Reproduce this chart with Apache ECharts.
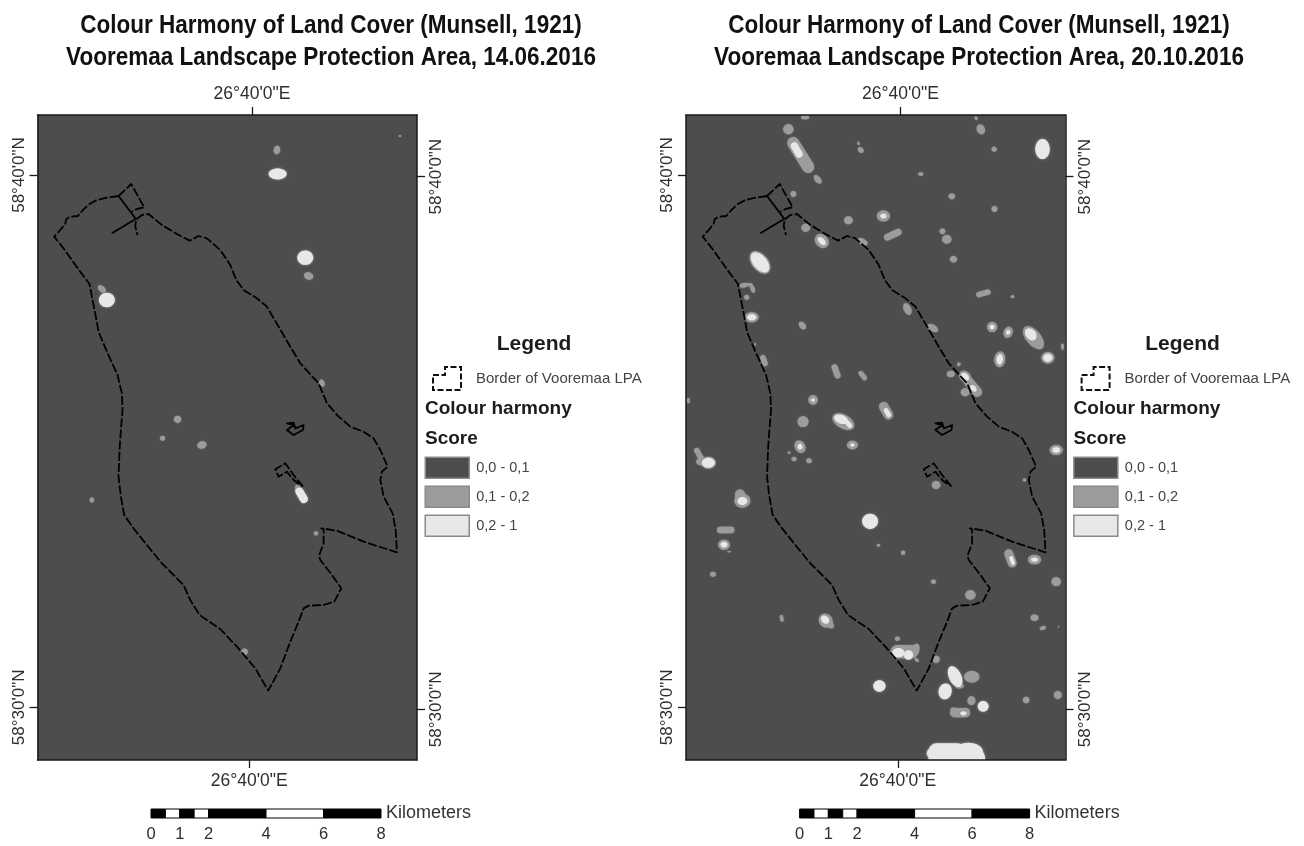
<!DOCTYPE html>
<html>
<head>
<meta charset="utf-8">
<style>html,body{margin:0;padding:0;background:#fff}#c{width:1304px;height:846px;filter:blur(0.7px)}</style>
<script src="https://cdn.jsdelivr.net/npm/echarts@6/dist/echarts.min.js"></script>
</head>
<body>
<div id="c"></div>
<script>
// ---- text ----
const titleLine1 = 'Colour Harmony of Land Cover (Munsell, 1921)';
const titleLine2 = 'Vooremaa Landscape Protection Area, ';
const dates = ['14.06.2016', '20.10.2016'];
const classes = ['0,0 - 0,1', '0,1 - 0,2', '0,2 - 1'];
const classColors = ['#4d4d4d', '#9c9c9c', '#e8e8e8'];
const lonLabel = '26°40\'0"E';
const latLabels = ['58°40\'0"N', '58°30\'0"N'];
const kmTicks = [0, 1, 2, 4, 6, 8];
const kmSegments = [[0, 0.5], [0.5, 1], [1, 1.5], [1.5, 2], [2, 4], [4, 6], [6, 8]];

// ---- map extent and graticule, in map units ----
const mapX = [22, 1160];
const mapY = [45, 1980];
const lonTop = [665], lonBottom = [657];
const latLeft = [225, 1822], latRight = [230, 1828];

// ---- boundary lines, [x, y] in map units ----
const border = [[265,288],[230,293],[200,300],[178,312],[160,328],[143,348],[120,350],[108,358],[105,372],[90,390],[72,410],
[100,445],[125,480],[150,515],[178,552],[185,590],[195,640],[205,695],[230,755],[262,825],[275,880],[277,930],[272,990],
[268,1050],[265,1130],[272,1190],[282,1245],[310,1285],[350,1335],[395,1390],[460,1455],[480,1500],[508,1545],[570,1587],[620,1640],[675,1705],[714,1772],
[750,1705],[780,1625],[805,1565],[820,1525],[835,1517],[880,1515],[912,1505],[933,1465],[905,1425],[870,1380],[866,1368],[880,1330],[880,1288],[873,1285],
[920,1292],[1000,1325],[1100,1357],[1096,1290],[1087,1240],[1060,1190],[1050,1140],[1055,1115],[1072,1100],[1050,1050],[1030,1015],
[1000,995],[960,980],[925,950],[890,910],[865,850],[810,790],[780,740],[745,680],[710,620],[680,595],[640,570],[618,540],[600,495],[570,450],[530,415],[505,408],[478,422],[440,402],[395,375],[355,342],[335,345],[318,358],[315,378],[322,405]];
const squareDashed = [[265,288],[303,252],[342,322],[320,327],[305,335]];
const squareSolid = [[265,288],[318,358]];
const spurSolid = [[245,400],[315,358]];
const enclaveA = [[790,975],[770,970],[790,968],[795,985],[820,975],[818,990],[790,1005],[770,990],[790,975]];
const enclaveB = [[818,1160],[790,1125],[765,1090],[735,1108],[745,1130],[770,1115],[790,1140],[810,1155]];

// ---- patches, [x, y, long axis, short axis, angle] in map units ----
const leftMid = [[740,150,24,18,80],[215,567,26,16,-40],[835,528,26,20,-20],[875,849,20,14,-65],[442,958,20,20,0],[397,1015,14,14,0],[515,1035,26,20,15],[185,1200,14,12,90],[857,1300,12,12,0],[643,1655,18,18,0],[1109,108,6,6,0],[803,1165,20,14,-60]];
const leftLight = [[742,222,50,30,0],[825,473,44,40,0],[230,600,44,40,0],[814,1186,50,24,-60]];
const rightMid = [[379,52,24,12,0],[329,88,28,28,0],[366,165,120,36,-58],[417,238,28,16,-50],[344,282,16,16,0],[539,130,10,6,-70],[546,150,18,14,-45],[892,55,10,8,-60],[906,88,28,22,-65],[946,148,14,14,0],[726,222,14,10,0],[819,289,18,16,0],[947,327,16,16,0],[509,361,24,22,0],[614,348,36,30,0],[642,404,56,20,25],[791,394,16,16,0],[804,418,26,24,0],[824,478,20,18,0],[381,383,24,22,0],[429,423,42,34,-45],[552,425,30,16,-30],[244,487,72,44,-50],[194,556,22,12,10],[210,554,24,9,0],[222,567,22,12,-70],[204,592,14,14,0],[219,652,38,28,0],[371,677,24,16,-50],[686,627,34,20,-65],[762,684,32,18,-30],[914,580,44,16,15],[1001,590,10,8,0],[940,681,28,28,0],[988,697,32,24,70],[1064,713,76,40,-50],[1107,773,36,32,0],[1151,740,18,8,90],[963,778,44,30,85],[256,782,34,16,-70],[229,733,6,6,0],[840,793,10,10,0],[816,822,22,18,0],[859,830,36,28,-45],[882,860,70,28,-50],[859,877,24,22,0],[472,814,44,18,-70],[552,827,32,14,-50],[403,900,26,26,0],[29,902,16,8,90],[622,932,56,28,-60],[373,965,30,30,0],[494,965,66,38,-30],
[364,1040,36,28,-60],[521,1035,30,24,0],[331,1058,8,6,0],[346,1077,14,12,0],[391,1082,16,14,0],[1132,1050,36,28,0],[62,1065,46,16,-60],[89,1088,40,32,0],[69,1085,30,20,0],[184,1185,28,30,0],[191,1202,44,38,0],[141,1290,52,20,0],[136,1334,32,28,0],[151,1355,10,4,0],[103,1423,16,14,0],[772,1155,24,22,0],[1037,1140,10,8,0],[599,1336,10,8,0],[673,1358,12,12,0],[764,1445,14,12,0],[995,1375,56,26,-70],[1067,1379,36,26,0],[1132,1445,26,24,0],[875,1485,28,26,0],[1067,1553,22,18,0],[1092,1584,18,10,20],[1139,1580,4,4,0],[309,1555,20,10,-80],[441,1562,40,36,-45],[452,1572,30,18,-45],[656,1616,14,12,0],[676,1655,80,40,0],[709,1652,40,22,70],[714,1680,14,8,-45],[772,1678,20,20,0],[842,1758,24,14,0],[879,1730,42,32,0],[878,1802,22,24,0],[844,1838,60,28,0],[824,1828,16,10,0],[1042,1800,18,18,0],[1137,1785,22,22,0]];
const rightLight = [[354,150,50,22,-60],[1091,147,56,40,90],[614,348,18,14,0],[429,423,28,16,-45],[244,487,66,38,-50],[219,652,26,18,0],[940,681,14,14,0],[988,697,14,12,70],[1056,703,38,28,-50],[1107,773,26,22,0],[963,778,30,18,85],[859,830,26,18,-45],[884,865,22,14,-50],[403,900,10,10,0],[626,938,30,14,-60],[487,958,40,24,-20],[509,972,28,14,-50],
[364,1040,16,14,-60],[521,1035,12,10,0],[1132,1050,22,16,0],[89,1088,36,28,0],[191,1203,28,22,0],[136,1334,20,16,0],[574,1264,44,42,0],[1000,1382,28,12,-70],[1067,1379,20,12,0],[439,1559,26,20,-45],[659,1658,34,26,0],[689,1665,26,26,0],[602,1758,34,32,0],[829,1730,62,34,-65],[799,1774,44,36,80],[913,1819,30,30,0],[854,1840,18,12,0],
[804,1955,110,50,0],[774,1960,60,30,0],[869,1955,80,50,0],[889,1965,50,30,0],[834,1975,170,40,0]];

const panels = [
  {mid: leftMid, light: leftLight, gridLeft: 37.5, titleX: 331, dx: 0},
  {mid: rightMid, light: rightLight, gridLeft: 686, titleX: 979, dx: 648.6}
];

const FONT = '"Liberation Sans", Arial, sans-serif';
const textGrey = '#2e2e2e';

function renderPatch(params, api) {
  const pt = api.coord([api.value(0), api.value(1)]);
  const sz = api.size([api.value(2), api.value(3)], [api.value(0), api.value(1)]);
  const w = sz[0], h = sz[1];
  const slender = Math.max(w, h) / Math.min(w, h) > 2;
  const base = {x: pt[0], y: pt[1], rotation: api.value(4) * Math.PI / 180, style: api.style()};
  return slender
    ? {...base, type: 'rect', shape: {x: -w / 2, y: -h / 2, width: w, height: h, r: Math.min(w, h) / 2}}
    : {...base, type: 'ellipse', shape: {cx: 0, cy: 0, rx: w * 0.54, ry: h * 0.54}};
}
function renderBackground(params, api) {
  const a = api.coord([mapX[0], mapY[0]]), b = api.coord([mapX[1], mapY[1]]);
  return {type: 'rect', shape: {x: a[0], y: a[1], width: b[0] - a[0], height: b[1] - a[1]}, style: api.style()};
}
function renderSegment(params, api) {
  const a = api.coord([api.value(0), 0]), b = api.coord([api.value(1), 1]);
  const top = Math.min(a[1], b[1]);
  return {type: 'rect', shape: {x: a[0], y: top, width: b[0] - a[0], height: Math.abs(b[1] - a[1])},
    style: {fill: params.dataIndex % 2 ? '#fff' : '#000', stroke: '#000', lineWidth: 1}};
}

const grid = [], xAxis = [], yAxis = [], series = [], legend = [], graphic = [];

panels.forEach((p, i) => {
  const g = grid.length;
  grid.push({left: p.gridLeft, top: 115, width: 379.5, height: 645});
  const xi = xAxis.length, yi = yAxis.length;
  const mkX = (pos, vals) => ({
    gridIndex: g, type: 'value', position: pos, min: mapX[0], max: mapX[1], z: 6, splitLine: {show: false},
    axisLine: {show: true, onZero: false, lineStyle: {color: '#1a1a1a', width: 1.5}},
    axisTick: {show: true, customValues: vals, length: 8, lineStyle: {color: '#1a1a1a', width: 1.3}},
    axisLabel: {show: true, customValues: vals, margin: 12, fontSize: 17.5, fontFamily: FONT, color: textGrey, formatter: () => lonLabel}
  });
  const mkY = (pos, vals, margin) => ({
    gridIndex: g, type: 'value', position: pos, min: mapY[0], max: mapY[1], inverse: true, z: 6, splitLine: {show: false},
    axisLine: {show: true, onZero: false, lineStyle: {color: '#1a1a1a', width: 1.5}},
    axisTick: {show: true, customValues: vals, length: 8, lineStyle: {color: '#1a1a1a', width: 1.3}},
    axisLabel: {show: true, customValues: vals, rotate: 90, margin, fontSize: 17, fontFamily: FONT, color: textGrey,
      formatter: v => latLabels[vals.indexOf(v)]}
  });
  xAxis.push(mkX('top', lonTop), mkX('bottom', lonBottom));
  yAxis.push(mkY('left', latLeft, 10), mkY('right', latRight, 11));
  const on = {xAxisIndex: xi, yAxisIndex: yi};
  const patch = (k, data, z, itemExtra) => ({type: 'custom', name: classes[k], ...on, clip: true, silent: true, z, itemStyle: {color: classColors[k], ...itemExtra}, renderItem: renderPatch, data, encode: {x: 0, y: 1}});
  series.push({type: 'custom', name: classes[0], ...on, clip: true, silent: true, z: 1, itemStyle: {color: classColors[0]}, renderItem: renderBackground, data: [[0]], encode: {x: [], y: []}});
  series.push(patch(1, p.mid, 2, {shadowColor: classColors[1], shadowBlur: 1.5}));
  series.push(patch(1, p.light, 3, {shadowColor: classColors[1], shadowBlur: 3}));
  series.push(patch(2, p.light, 4, {}));
  const line = (name, data, dash) => ({
    type: 'line', name, ...on, data, z: 5, silent: true, showSymbol: false, symbol: 'none', clip: true, animation: false,
    lineStyle: {color: '#000', width: 1.8, type: dash ? [9, 2.2] : 'solid', cap: 'butt', join: 'round'}
  });
  series.push(line('Border', border, true), line('Border', squareDashed, true), line('Border', squareSolid, false),
    line('Border', spurSolid, false), line('Border', enclaveA, false), line('Border', enclaveB, true));

  legend.push({
    left: 419.5 + p.dx, top: 451.5, orient: 'vertical', itemWidth: 44, itemHeight: 21, itemGap: 6.5, selectedMode: false, icon: 'rect',
    textStyle: {fontFamily: FONT, fontSize: 14.5, color: '#444', padding: [0, 0, 0, 2]},
    data: classes.map((c, k) => ({name: c, icon: 'rect', itemStyle: {color: classColors[k], borderColor: '#8a8a8a', borderWidth: 1.5}}))
  });
  const titleStyle = {fontFamily: FONT, fontSize: 25, fontWeight: 'bold', fill: '#111', align: 'center', verticalAlign: 'middle'};
  graphic.push(
    {type: 'text', x: p.titleX, y: 26, scaleX: 0.9, style: {...titleStyle, text: titleLine1}},
    {type: 'text', x: p.titleX, y: 58, scaleX: 0.9, style: {...titleStyle, text: titleLine2 + dates[i]}},
    {type: 'text', x: 534 + p.dx, y: 344, style: {text: 'Legend', fontFamily: FONT, fontSize: 21, fontWeight: 'bold', fill: '#1c1c1c', align: 'center', verticalAlign: 'middle'}},
    {type: 'polygon', shape: {points: [[433,375],[445,375],[445,367],[461,367],[461,390],[433,390]].map(q => [q[0] + p.dx, q[1]])}, style: {fill: 'none', stroke: '#111', lineWidth: 2, lineDash: [6, 2.5]}},
    {type: 'text', x: 476 + p.dx, y: 379, style: {text: 'Border of Vooremaa LPA', fontFamily: FONT, fontSize: 15, fill: '#444', verticalAlign: 'middle'}},
    {type: 'text', x: 425 + p.dx, y: 409, style: {text: 'Colour harmony', fontFamily: FONT, fontSize: 19, fontWeight: 'bold', fill: '#1c1c1c', verticalAlign: 'middle'}},
    {type: 'text', x: 425 + p.dx, y: 439, style: {text: 'Score', fontFamily: FONT, fontSize: 19, fontWeight: 'bold', fill: '#1c1c1c', verticalAlign: 'middle'}},
    {type: 'text', x: 386 + p.dx, y: 813, style: {text: 'Kilometers', fontFamily: FONT, fontSize: 18, fill: '#333', verticalAlign: 'middle'}}
  );

  // scale bar
  const gs = grid.length;
  grid.push({left: 151 + p.dx, top: 809, width: 230, height: 9});
  const xs = xAxis.length, ys = yAxis.length;
  xAxis.push({gridIndex: gs, type: 'value', min: 0, max: 8, position: 'bottom', axisLine: {show: false}, axisTick: {show: false}, splitLine: {show: false},
    axisLabel: {show: true, customValues: kmTicks, margin: 8, fontSize: 16.5, fontFamily: FONT, color: textGrey}});
  yAxis.push({gridIndex: gs, type: 'value', min: 0, max: 1, show: false});
  series.push({type: 'custom', name: 'Scale', xAxisIndex: xs, yAxisIndex: ys, silent: true, renderItem: renderSegment, data: kmSegments, encode: {x: [0, 1]}});
});

const chart = echarts.init(document.getElementById('c'), null, {renderer: 'canvas'});
chart.setOption({animation: false, backgroundColor: '#fff', legend, grid, xAxis, yAxis, series, graphic, tooltip: {show: false}});
</script>
</body>
</html>
